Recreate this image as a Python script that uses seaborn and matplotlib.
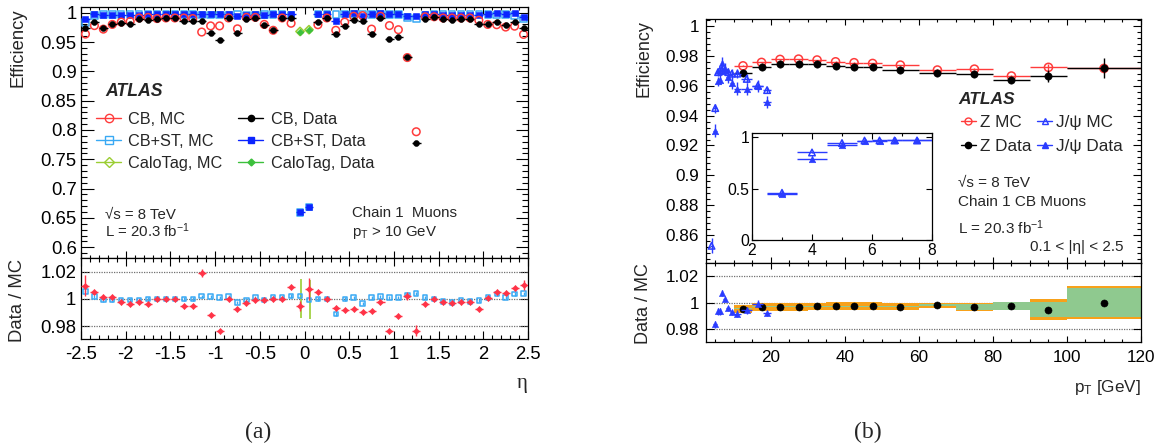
import numpy as np
import pandas as pd
import matplotlib
matplotlib.use("Agg")
import matplotlib.pyplot as plt
import seaborn as sns
from matplotlib.lines import Line2D
from matplotlib.ticker import MultipleLocator, FuncFormatter, FixedLocator

# ---------------- (a) efficiency vs eta (0.1 wide bins) ----------------
eta = np.round(np.arange(-2.45, 2.46, 0.1), 2)
nan = np.nan
cb_mc = [0.9635, 0.978, 0.972, 0.980, 0.984, 0.985, 0.991, 0.992, 0.990, 0.991,
         0.991, 0.991, 0.990, 0.967, 0.9775, 0.9775, 0.991, 0.9725, 0.992, 0.992,
         0.980, 0.970, 0.991, 0.982, nan, nan, 0.9795, 0.991, 0.970, 0.984,
         0.994, 0.995, 0.972, 0.994, 0.978, 0.971, 0.9235, 0.797, 0.993, 0.993,
         0.991, 0.991, 0.991, 0.991, 0.987, 0.980, 0.9795, 0.9755, 0.977, 0.963]
cb_data = [0.9738, 0.9835, 0.9738, 0.9812, 0.982, 0.981, 0.989, 0.988, 0.990, 0.991,
           0.991, 0.986, 0.985, 0.986, 0.9655, 0.954, 0.991, 0.9655, 0.989, 0.991,
           0.9795, 0.970, 0.991, 0.991, nan, nan, 0.9835, 0.991, 0.9635, 0.9765,
           0.987, 0.986, 0.9635, 0.991, 0.955, 0.9585, 0.925, 0.778, 0.989, 0.993,
           0.9885, 0.988, 0.989, 0.9885, 0.980, 0.981, 0.9835, 0.9795, 0.9845, 0.9738]
cbst_mc = [0.9835, 0.9955, 0.9965, 0.9965, 0.9965, 0.997, 0.997, 0.997, 0.997, 0.997,
           0.997, 0.997, 0.997, 0.996, 0.996, 0.996, 0.996, 0.997, 0.996, 0.996,
           0.997, 0.997, 0.997, 0.995, 0.659, 0.669, 0.998, 0.998, 0.997, 0.998,
           0.998, 0.998, 0.997, 0.997, 0.997, 0.997, 0.992, 0.990, 0.996, 0.997,
           0.998, 0.998, 0.998, 0.998, 0.998, 0.997, 0.996, 0.997, 0.995, 0.989]
cbst_data = [0.989, 0.9972, 0.9958, 0.9958, 0.9958, 0.9963, 0.9963, 0.997, 0.997, 0.997,
             0.997, 0.997, 0.997, 0.998, 0.9977, 0.997, 0.9977, 0.9945, 0.9953, 0.9972,
             0.9963, 0.9982, 0.9982, 0.9972, 0.6605, 0.6685, 0.998, 0.998, 0.986, 0.998,
             0.999, 0.9948, 0.9982, 0.9987, 0.9982, 0.998, 0.995, 0.994, 0.9972, 0.997,
             0.996, 0.9955, 0.9968, 0.996, 0.9968, 0.9982, 0.9997, 0.9982, 0.9987, 0.9932]
cb_ratio = [1.0099, 1.005, 1.0017, 1.0017, 0.998, 0.9961, 0.9978, 0.9961, 0.9997, 1.0003,
            0.9997, 0.9948, 0.9948, 1.019, 0.9881, 0.9765, 1.0, 0.9923, 0.9968, 0.9993,
            0.9993, 1.0, 1.0, 1.0091, 0.9948, 1.0074, 1.005, 1.0, 0.9936, 0.9919,
            0.9923, 0.9901, 0.9913, 0.9975, 0.9765, 0.9874, 1.0025, 0.9765, 0.9961, 1.0,
            0.9975, 0.9968, 0.998, 0.9975, 0.9928, 1.001, 1.005, 1.0042, 1.0079, 1.0104]
cb_ratio_err = [0.008, 0.0015, 0.0012, 0.0012, 0.0012, 0.0012, 0.0012, 0.0012, 0.0012, 0.0012,
                0.0012, 0.0012, 0.0012, 0.003, 0.0015, 0.0012, 0.0012, 0.0015, 0.0012, 0.0012,
                0.0012, 0.0012, 0.0012, 0.0015, 0.004, 0.008, 0.0015, 0.0012, 0.0015, 0.0012,
                0.0012, 0.0012, 0.0012, 0.0015, 0.0012, 0.0012, 0.003, 0.004, 0.0012, 0.0012,
                0.0012, 0.0012, 0.0012, 0.0012, 0.0015, 0.0012, 0.0012, 0.0012, 0.0015, 0.004]
cbst_ratio = [1.0054, 1.0017, 0.9993, 0.9993, 0.9993, 0.9993, 0.9993, 1.0, 1.0, 1.0,
              1.0, 1.0, 1.0, 1.002, 1.0017, 1.001, 1.0017, 0.9975, 0.9993, 1.0012,
              0.9993, 1.0012, 1.0012, 1.0022, 1.0022, 0.9993, 1.0, 1.0, 0.9889, 1.0,
              1.001, 0.9968, 1.0012, 1.0017, 1.0012, 1.001, 1.003, 1.004, 1.0012, 1.0,
              0.998, 0.9975, 0.9988, 0.998, 0.9988, 1.0012, 1.0037, 1.0012, 1.0037, 1.0042]
calo_eta = [-0.05, 0.05]
calo_mc = [0.968, 0.971]
calo_data = [0.967, 0.971]
calo_ratio_eta = [-0.04, 0.06]
calo_ratio = [1.0002, 0.9996]
calo_ratio_err = [0.0145, 0.0146]

# ---------------- (b) efficiency vs pT ----------------
z_pt = [12.5, 17.5, 22.5, 27.5, 32.5, 37.5, 42.5, 47.5, 55, 65, 75, 85, 95, 110]
z_hw = [2.5, 2.5, 2.5, 2.5, 2.5, 2.5, 2.5, 2.5, 5, 5, 5, 5, 5, 10]
z_mc = [0.9732, 0.9755, 0.9775, 0.9777, 0.9771, 0.9759, 0.9753, 0.9748, 0.9737, 0.9704,
        0.9710, 0.9664, 0.9722, 0.9715]
z_mc_err = [0.0003, 0.0003, 0.0003, 0.0003, 0.0003, 0.0003, 0.0003, 0.0003, 0.0004, 0.0006,
            0.0008, 0.001, 0.002, 0.003]
z_data = [0.9686, 0.9726, 0.9742, 0.9745, 0.9742, 0.9733, 0.9726, 0.9722, 0.9704, 0.9686,
          0.9677, 0.9637, 0.9666, 0.9715]
z_data_err = [0.0008, 0.0006, 0.0005, 0.0005, 0.0005, 0.0005, 0.0005, 0.0006, 0.0008, 0.001,
              0.0015, 0.002, 0.004, 0.0067]
z_ratio = [0.9952, 0.9967, 0.9969, 0.9969, 0.9970, 0.9972, 0.9971, 0.9972, 0.9969, 0.9980,
           0.9965, 0.9975, 0.9947, 1.0000]
z_tot_err = [0.0030, 0.0030, 0.0030, 0.0030, 0.0030, 0.0030, 0.0030, 0.0030, 0.0028, 0.0018,
             0.0028, 0.0032, 0.0078, 0.0128]
z_stat_err = [0.0004, 0.0003, 0.0003, 0.0003, 0.0003, 0.0003, 0.0003, 0.0004, 0.0005, 0.0009,
              0.0025, 0.0031, 0.0058, 0.0107]

jpsi_pt = [3, 4, 5, 5.75, 6.25, 6.75, 7.5, 8.5, 9.5, 11, 13.5, 16.5, 19]
jpsi_hw = [0.5, 0.5, 0.5, 0.25, 0.25, 0.25, 0.5, 0.5, 0.5, 1, 1.5, 1.5, 1]
jpsi_mc = [0.46, 0.853, 0.945, 0.969, 0.970, 0.970, 0.970, 0.969, 0.968, 0.968, 0.9645, 0.960, 0.957]
jpsi_mc_err = [0.01, 0.005, 0.003, 0.0025, 0.0025, 0.003, 0.003, 0.003, 0.003, 0.003, 0.003, 0.003, 0.002]
jpsi_data = [0.45, 0.785, 0.930, 0.963, 0.964, 0.975, 0.971, 0.966, 0.962, 0.958, 0.958, 0.9595, 0.949]
jpsi_data_err = [0.01, 0.01, 0.0045, 0.003, 0.003, 0.004, 0.004, 0.004, 0.004, 0.0045, 0.004, 0.004, 0.004]
jpsi_ratio_pt = [5, 5.75, 6.25, 6.75, 7.5, 8.5, 9.5, 11, 13.5, 16.5, 19]
jpsi_ratio = [0.9834, 0.9934, 0.9934, 1.0073, 1.0023, 0.9955, 0.9927, 0.9915, 0.9940, 0.9992, 0.9917]
jpsi_ratio_err = [0.003, 0.0025, 0.0025, 0.0025, 0.002, 0.002, 0.002, 0.0025, 0.0025, 0.0025, 0.002]
inset_n = 7  # J/psi bins drawn in the low-pT inset (pT < 8 GeV)

# ---------------- style ----------------
sns.set_style("ticks")
plt.rcParams['font.family'] = ['Liberation Sans', 'DejaVu Sans']
plt.rcParams['mathtext.fontset'] = 'custom'
plt.rcParams['mathtext.rm'] = 'Liberation Sans'
plt.rcParams['mathtext.it'] = 'Liberation Sans:italic'
plt.rcParams['mathtext.bf'] = 'Liberation Sans:bold'
plt.rcParams['axes.linewidth'] = 0.9
plt.rcParams['axes.edgecolor'] = 'black'

RED = '#ff3b3b'
LTBLUE = '#39a9f4'
BLUE = '#0b24ff'
YGREEN = '#9acd32'
GREEN = '#3cc03c'
RRED = '#ff3347'
JBLUE = '#2a3cff'
ORANGE = '#f7a11a'
BGREEN = '#8fc98f'

W, H = 1165, 448
fig = plt.figure(figsize=(W / 100, H / 100), dpi=100)


def box(x0, y0, x1, y1):
    return [x0 / W, 1 - y1 / H, (x1 - x0) / W, (y1 - y0) / H]


def txt(x, y, s, **kw):
    kw.setdefault('va', 'center')
    fig.text(x / W, 1 - y / H, s, **kw)


def pts(ax, x, y, color, marker, filled, s=25, xerr=None, yerr=None, elw=1.0, z=3):
    if xerr is not None or yerr is not None:
        ax.errorbar(x, y, xerr=xerr, yerr=yerr, fmt='none', ecolor=color,
                    elinewidth=elw, capsize=0, zorder=z)
    df = pd.DataFrame({'x': x, 'y': y})
    if filled:
        sns.scatterplot(data=df, x='x', y='y', ax=ax, marker=marker, s=s, color=color,
                        edgecolor=color, linewidth=0.4, zorder=z + 0.1, legend=False)
    else:
        sns.scatterplot(data=df, x='x', y='y', ax=ax, marker=marker, s=s, color=color,
                        facecolors='none', edgecolor=color, linewidth=1.1,
                        zorder=z + 0.1, legend=False)
    ax.set_xlabel('')
    ax.set_ylabel('')


gfmt = FuncFormatter(lambda v, p: '%g' % round(v, 4))


def root_ticks(ax, ymin_len, xmaj_len, xmin_len, ymaj_len, size):
    ax.tick_params(which='both', direction='in', top=True, right=True,
                   labelsize=size, width=0.8, colors='black')
    ax.tick_params(axis='y', which='major', length=ymaj_len)
    ax.tick_params(axis='y', which='minor', length=ymin_len)
    ax.tick_params(axis='x', which='major', length=xmaj_len)
    ax.tick_params(axis='x', which='minor', length=xmin_len)


# ================= panel (a) =================
axa = fig.add_axes(box(81, 7.3, 528, 258.3))
axar = fig.add_axes(box(81, 258.3, 528, 339))

pts(axa, eta, cbst_mc, LTBLUE, 's', False, s=22, z=3)
pts(axa, eta, cbst_data, BLUE, 's', True, s=20, xerr=0.05, z=4)
pts(axa, eta, cb_mc, RED, 'o', False, s=30, z=5)
pts(axa, eta, cb_data, 'black', 'o', True, s=18, xerr=0.05, yerr=0.001, z=6)
pts(axa, calo_eta, calo_mc, YGREEN, 'D', False, s=18, z=5)
pts(axa, calo_eta, calo_data, GREEN, 'D', True, s=12, xerr=0.03, yerr=0.0035, z=6)

axa.set_xlim(-2.5, 2.5)
axa.set_ylim(0.5812, 1.0092)
axa.xaxis.set_major_locator(MultipleLocator(0.5))
axa.xaxis.set_minor_locator(MultipleLocator(0.1))
axa.yaxis.set_major_locator(MultipleLocator(0.05))
axa.yaxis.set_minor_locator(MultipleLocator(0.01))
axa.yaxis.set_major_formatter(gfmt)
axa.tick_params(labelbottom=False)
root_ticks(axa, 4.5, 5, 2.5, 9, 13.3)
axa.tick_params(axis='y', pad=3)

for v in [1.02, 1.0, 0.98]:
    axar.axhline(v, color='#707070', linestyle=(0, (1, 1)), linewidth=0.9, zorder=1)
pts(axar, eta, cbst_ratio, LTBLUE, 's', False, s=10, yerr=0.0012, z=3)
axar.errorbar(calo_ratio_eta, calo_ratio, yerr=calo_ratio_err, fmt='none',
              ecolor=YGREEN, elinewidth=1.2, zorder=3)
pts(axar, eta, cb_ratio, RRED, 'D', True, s=10, xerr=0.045, yerr=cb_ratio_err, z=4)
axar.set_xlim(-2.5, 2.5)
axar.set_ylim(0.9704, 1.0301)
axar.xaxis.set_major_locator(MultipleLocator(0.5))
axar.xaxis.set_minor_locator(MultipleLocator(0.1))
axar.yaxis.set_major_locator(FixedLocator([0.98, 1.0, 1.02]))
axar.yaxis.set_minor_locator(FixedLocator([]))
axar.xaxis.set_major_formatter(gfmt)
axar.yaxis.set_major_formatter(gfmt)
root_ticks(axar, 3, 6, 3, 6, 13.3)
axar.tick_params(axis='x', pad=5)

leg_a = [
    Line2D([], [], color=RED, marker='o', mfc='none', mec=RED, ms=6, lw=1),
    Line2D([], [], color=LTBLUE, marker='s', mfc='none', mec=LTBLUE, ms=5.5, lw=1),
    Line2D([], [], color=YGREEN, marker='D', mfc='none', mec=YGREEN, ms=5, lw=1),
    Line2D([], [], color='black', marker='o', mfc='black', mec='black', ms=4.5, lw=1),
    Line2D([], [], color=BLUE, marker='s', mfc=BLUE, mec=BLUE, ms=4.5, lw=1),
    Line2D([], [], color=GREEN, marker='D', mfc=GREEN, mec=GREEN, ms=3.5, lw=1),
]
axa.legend(leg_a, ['CB, MC', 'CB+ST, MC', 'CaloTag, MC', 'CB, Data', 'CB+ST, Data',
                   'CaloTag, Data'],
           ncol=2, loc='upper left', bbox_to_anchor=(96 / W, 1 - 112 / H),
           bbox_transform=fig.transFigure, frameon=False, fontsize=11.7,
           handlelength=1.55, handletextpad=0.45, columnspacing=0.95,
           labelspacing=0.42, borderpad=0, borderaxespad=0)

txt(105, 92, 'ATLAS', fontsize=12.7, fontweight='bold', fontstyle='italic')
txt(105, 215, '√s = 8 TeV', fontsize=10.8)
txt(105, 231, 'L = 20.3 fb$^{-1}$', fontsize=10.8)
txt(352, 213, 'Chain 1  Muons', fontsize=10.8)
txt(352, 232, 'p$_\\mathregular{T}$ > 10 GeV', fontsize=10.8)
txt(17.5, 8, 'Efficiency', fontsize=13.3, rotation=90, ha='center', va='top')
txt(17.5, 300, 'Data / MC', fontsize=13.3, rotation=90, ha='center')
txt(528, 383, 'η', fontsize=15, ha='right', family=['Liberation Serif', 'DejaVu Serif'])
txt(258, 432, '(a)', fontsize=17, ha='center', family=['Liberation Serif', 'DejaVu Serif'])

# ================= panel (b) =================
axb = fig.add_axes(box(706, 19, 1141, 263.3))
axbr = fig.add_axes(box(706, 263.3, 1141, 341.7))

pts(axb, z_pt, z_mc, RED, 'o', False, s=34, xerr=z_hw, yerr=z_mc_err, z=3)
pts(axb, z_pt, z_data, 'black', 'o', True, s=28, xerr=z_hw, yerr=z_data_err, z=4)
pts(axb, jpsi_pt, jpsi_mc, JBLUE, '^', False, s=22, xerr=jpsi_hw, yerr=jpsi_mc_err, z=5)
pts(axb, jpsi_pt, jpsi_data, JBLUE, '^', True, s=22, xerr=jpsi_hw, yerr=jpsi_data_err, z=6)
axb.set_xlim(2.5, 120)
axb.set_ylim(0.8413, 1.0045)
axb.xaxis.set_major_locator(MultipleLocator(20))
axb.xaxis.set_minor_locator(MultipleLocator(5))
axb.yaxis.set_major_locator(MultipleLocator(0.02))
axb.yaxis.set_minor_locator(MultipleLocator(0.004))
axb.yaxis.set_major_formatter(gfmt)
axb.tick_params(labelbottom=False)
root_ticks(axb, 3.2, 4.5, 2.5, 5.8, 12.3)
axb.tick_params(axis='y', pad=5)

for v in [1.02, 1.0, 0.98]:
    axbr.axhline(v, color='#707070', linestyle=(0, (1, 1)), linewidth=0.9, zorder=0.5)
axbr.bar(z_pt, [2 * e for e in z_tot_err], bottom=[r - e for r, e in zip(z_ratio, z_tot_err)],
         width=[2 * w for w in z_hw], color=ORANGE, linewidth=0, zorder=1)
axbr.bar(z_pt, [2 * e for e in z_stat_err], bottom=[r - e for r, e in zip(z_ratio, z_stat_err)],
         width=[2 * w for w in z_hw], color=BGREEN, linewidth=0, zorder=1.5)
pts(axbr, z_pt, z_ratio, 'black', 'o', True, s=26, z=3)
pts(axbr, jpsi_ratio_pt, jpsi_ratio, JBLUE, '^', True, s=20,
    xerr=jpsi_hw[2:], yerr=jpsi_ratio_err, z=4)
axbr.set_xlim(2.5, 120)
axbr.set_ylim(0.9704, 1.0296)
axbr.xaxis.set_major_locator(MultipleLocator(20))
axbr.xaxis.set_minor_locator(MultipleLocator(5))
axbr.yaxis.set_major_locator(FixedLocator([0.98, 1.0, 1.02]))
axbr.yaxis.set_minor_locator(FixedLocator([]))
axbr.xaxis.set_major_formatter(gfmt)
axbr.yaxis.set_major_formatter(gfmt)
root_ticks(axbr, 3, 4.5, 2.5, 5.8, 12.3)
axbr.tick_params(axis='x', pad=6)
axbr.tick_params(axis='y', pad=5)

# inset: low-pT J/psi efficiency
axi = fig.add_axes(box(752, 133.3, 932, 240))
pts(axi, jpsi_pt[:inset_n], jpsi_mc[:inset_n], JBLUE, '^', False, s=22,
    xerr=jpsi_hw[:inset_n], yerr=jpsi_mc_err[:inset_n], z=3)
pts(axi, jpsi_pt[:inset_n], jpsi_data[:inset_n], JBLUE, '^', True, s=22,
    xerr=jpsi_hw[:inset_n], yerr=jpsi_data_err[:inset_n], z=4)
axi.set_xlim(2, 8)
axi.set_ylim(0, 1.04)
axi.xaxis.set_major_locator(MultipleLocator(2))
axi.xaxis.set_minor_locator(MultipleLocator(1))
axi.yaxis.set_major_locator(FixedLocator([0, 0.5, 1]))
axi.yaxis.set_minor_locator(FixedLocator([]))
axi.xaxis.set_major_formatter(gfmt)
axi.yaxis.set_major_formatter(gfmt)
root_ticks(axi, 2, 4, 2, 4, 11.3)
axi.tick_params(pad=2)

leg_b = [
    Line2D([], [], color=RED, marker='o', mfc='none', mec=RED, ms=5, lw=1),
    Line2D([], [], color='black', marker='o', mfc='black', mec='black', ms=4.5, lw=1),
    Line2D([], [], color=JBLUE, marker='^', mfc='none', mec=JBLUE, ms=4.5, lw=1),
    Line2D([], [], color=JBLUE, marker='^', mfc=JBLUE, mec=JBLUE, ms=4.5, lw=1),
]
axb.legend(leg_b, ['Z MC', 'Z Data', 'J/ψ MC', 'J/ψ Data'],
           ncol=2, loc='upper left', bbox_to_anchor=(961 / W, 1 - 115 / H),
           bbox_transform=fig.transFigure, frameon=False, fontsize=12.3,
           handlelength=0.85, handletextpad=0.25, columnspacing=0.35,
           labelspacing=0.55, borderpad=0, borderaxespad=0)

txt(958, 100, 'ATLAS', fontsize=12.5, fontweight='bold', fontstyle='italic')
txt(958, 183, '√s = 8 TeV', fontsize=11)
txt(958, 202, 'Chain 1 CB Muons', fontsize=11)
txt(958, 228, 'L = 20.3 fb$^{-1}$', fontsize=11)
txt(1123, 247, '0.1 < |η| < 2.5', fontsize=11, ha='right')
txt(644, 20, 'Efficiency', fontsize=13, rotation=90, ha='center', va='top')
txt(644, 304, 'Data / MC', fontsize=13, rotation=90, ha='center')
txt(1141, 387, 'p$_\\mathregular{T}$ [GeV]', fontsize=12.3, ha='right')
txt(868, 432, '(b)', fontsize=17, ha='center', family=['Liberation Serif', 'DejaVu Serif'])

fig.savefig('out.png', dpi=100)
